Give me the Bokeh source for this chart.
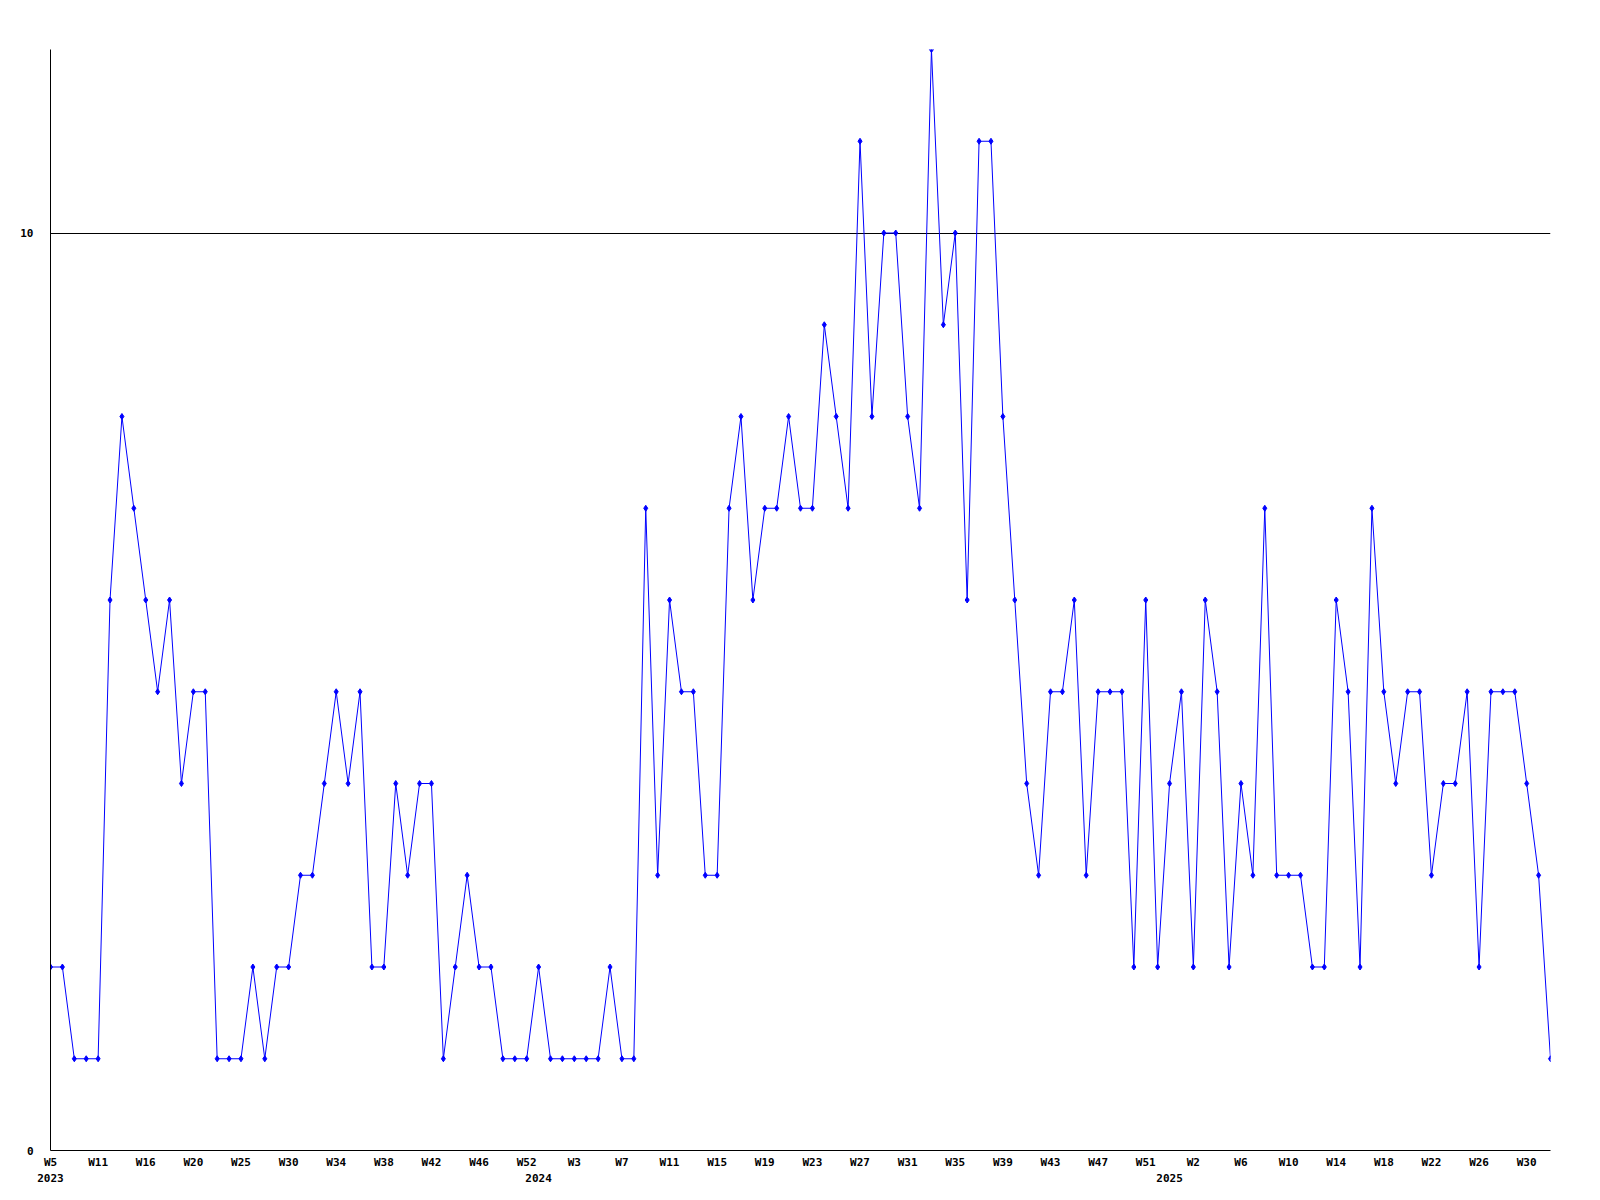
from bokeh.plotting import figure
from bokeh.models import FixedTicker, Range1d, LinearAxis
from bokeh.embed import file_html
from bokeh.resources import INLINE

# weekly values (127 points)
values = [
    2, 2, 1, 1, 1, 6, 8, 7, 6, 5,
    6, 4, 5, 5, 1, 1, 1, 2, 1, 2,
    2, 3, 3, 4, 5, 4, 5, 2, 2, 4,
    3, 4, 4, 1, 2, 3, 2, 2, 1, 1,
    1, 2, 1, 1, 1, 1, 1, 2, 1, 1,
    7, 3, 6, 5, 5, 3, 3, 7, 8, 6,
    7, 7, 8, 7, 7, 9, 8, 7, 11, 8,
    10, 10, 8, 7, 12, 9, 10, 6, 11, 11,
    8, 6, 4, 3, 5, 5, 6, 3, 5, 5,
    5, 2, 6, 2, 4, 5, 2, 6, 5, 2,
    4, 3, 7, 3, 3, 3, 2, 2, 6, 5,
    2, 7, 5, 4, 5, 5, 3, 4, 4, 5,
    2, 5, 5, 5, 4, 3, 1,
]
x_idx = list(range(len(values)))

# week tick labels (one every 4 points)
week_labels = ["W5", "W11", "W16", "W20", "W25", "W30", "W34", "W38", "W42", "W46",
               "W52", "W3", "W7", "W11", "W15", "W19", "W23", "W27", "W31", "W35",
               "W39", "W43", "W47", "W51", "W2", "W6", "W10", "W14", "W18", "W22",
               "W26", "W30"]
label_step = 4
# year labels and the point index where each year starts
year_labels = ["2023", "2024", "2025"]
year_index = [0, 41, 94]

y_ticks = [0, 10]

FONT = "DejaVu Sans Mono"

p = figure(width=1592, height=1192,
           x_range=Range1d(0, len(values) - 1), y_range=Range1d(0, 12),
           output_backend="svg", toolbar_location=None,
           min_border_left=50, min_border_right=42,
           min_border_top=49, min_border_bottom=42)
p.outline_line_color = None
p.background_fill_color = "white"
p.border_fill_color = "white"

# x axis (weeks)
week_ticks = [i * label_step for i in range(len(week_labels))]
xa = p.xaxis[0]
xa.ticker = FixedTicker(ticks=week_ticks)
xa.major_label_overrides = {t: l for t, l in zip(week_ticks, week_labels)}
xa.major_tick_line_color = None
xa.minor_tick_line_color = None
xa.major_tick_out = 0
xa.major_tick_in = 0
xa.major_label_standoff = 5
xa.axis_line_color = "black"
xa.major_label_text_font = FONT
xa.major_label_text_font_style = "bold"
xa.major_label_text_font_size = "11px"
xa.major_label_text_color = "black"

# second row: years
ya2 = LinearAxis(ticker=FixedTicker(ticks=year_index),
                 major_label_overrides={t: l for t, l in zip(year_index, year_labels)})
ya2.axis_line_color = None
ya2.major_tick_line_color = None
ya2.minor_tick_line_color = None
ya2.major_tick_out = 0
ya2.major_tick_in = 0
ya2.major_label_standoff = 2
ya2.major_label_text_font = FONT
ya2.major_label_text_font_style = "bold"
ya2.major_label_text_font_size = "11px"
ya2.major_label_text_color = "black"
p.add_layout(ya2, "below")

# y axis (labels left-aligned, as in the original)
ya = p.yaxis[0]
ya.ticker = FixedTicker(ticks=y_ticks)
ya.major_tick_line_color = None
ya.minor_tick_line_color = None
ya.major_tick_out = 0
ya.major_tick_in = 0
ya.major_label_standoff = 17
ya.major_label_text_align = "left"
ya.axis_line_color = "black"
ya.major_label_text_font = FONT
ya.major_label_text_font_style = "bold"
ya.major_label_text_font_size = "11px"
ya.major_label_text_color = "black"

p.xgrid.visible = False
p.ygrid.grid_line_color = "black"
p.ygrid.grid_line_alpha = 1.0
p.ygrid.grid_line_width = 1

p.line(x_idx, values, line_color="#0000ff", line_width=1)
p.scatter(x_idx, values, marker="diamond", size=6, color="#0000ff")

open("out.html", "w").write(file_html(p, INLINE))
